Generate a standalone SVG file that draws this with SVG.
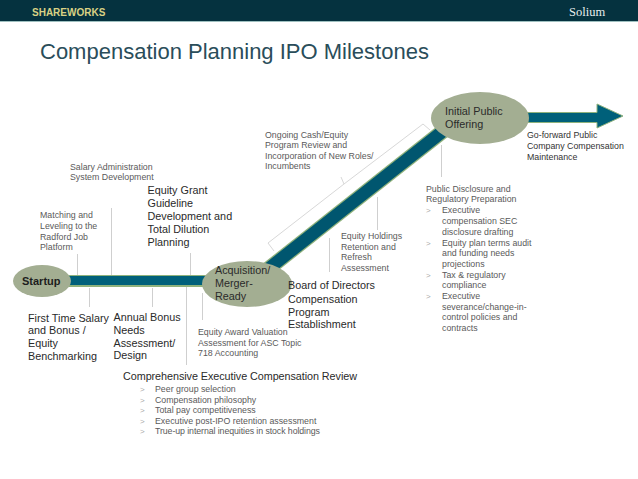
<svg xmlns="http://www.w3.org/2000/svg" width="638" height="479" viewBox="0 0 638 479">
<style>
text{font-family:"Liberation Sans",Arial,sans-serif}
.s{font-size:8.8px;fill:#5a5a5a}
.l{font-size:10.8px;fill:#2a2a2a}
.b{font-size:8px;fill:#aaa}
.k{fill:#333}
.lead{stroke:#cfcfcf;stroke-width:1;fill:none}
.node{fill:#a3ae92}
</style>
<rect width="638" height="21" fill="#05323f"/>
<rect y="21" width="638" height="1" fill="#9fc0c0"/>
<text x="32" y="16" font-size="10" font-weight="700" fill="#d9d184">SHAREWORKS</text>
<text x="569" y="16" font-size="12.500" fill="#e8eeee" style="font-family:'Liberation Serif',serif">Solium</text>
<text x="40" y="59" font-size="22" fill="#2a4d5a">Compensation Planning IPO Milestones</text>
<g id="connectors">
<path d="M60 281H230" stroke="#8fb27c" stroke-width="12" fill="none"/>
<path d="M60 280.500H230" stroke="#00607a" stroke-width="9" fill="none"/>
<path d="M255 279.300L452 124" stroke="#8fb27c" stroke-width="15" fill="none"/>
<path d="M255 279.300L452 124" stroke="#00566f" stroke-width="12.500" fill="none"/>
<path d="M525 112.500H597V104L623 116L597 128V122.500H525Z" fill="#00607a" stroke="#8fb27c" stroke-width="1"/>
<path class="lead" d="M77.500 254V275M111.500 208V275M190.500 253V275M89.500 288V307M152.500 288V307M186.500 287V365M202.500 293V320M377.500 197V230M329.500 238V272M441.500 145V177"/>
<path d="M274 251L268 243L344 184L423 124L430 130M344 184L341 177" fill="none" stroke="#d8d8d8" stroke-width="1"/>
</g>
<g id="startup"><ellipse class="node" cx="42" cy="281" rx="29" ry="16"/><text x="22" y="285" font-size="11" font-weight="700" fill="#1d1d1d">Startup</text></g>
<g id="acquisition"><ellipse class="node" cx="247" cy="284" rx="45" ry="23"/><text class="l" x="215" y="274">Acquisition/</text><text class="l" x="215" y="287">Merger-</text><text class="l" x="215" y="300">Ready</text></g>
<g id="ipo"><ellipse class="node" cx="480" cy="118" rx="49" ry="26"/><text class="l" x="445" y="115">Initial Public</text><text class="l" x="445" y="128">Offering</text></g>
<g id="salary-admin"><text class="s" x="70" y="170">Salary Administration</text><text class="s" x="70" y="180">System Development</text></g>
<g id="matching"><text class="s" x="40" y="218">Matching and</text><text class="s" x="40" y="229">Leveling to the</text><text class="s" x="40" y="239.500">Radford Job</text><text class="s" x="40" y="250">Platform</text></g>
<g id="equity-grant"><text class="l" x="147.500" y="194">Equity Grant</text><text class="l" x="147.500" y="207">Guideline</text><text class="l" x="147.500" y="220">Development and</text><text class="l" x="147.500" y="233">Total Dilution</text><text class="l" x="147.500" y="245.500">Planning</text></g>
<g id="first-time"><text class="l" x="28" y="322">First Time Salary</text><text class="l" x="28" y="334">and Bonus /</text><text class="l" x="28" y="347">Equity</text><text class="l" x="28" y="360">Benchmarking</text></g>
<g id="annual-bonus"><text class="l" x="113.500" y="321">Annual Bonus</text><text class="l" x="113.500" y="334">Needs</text><text class="l" x="113.500" y="347">Assessment/</text><text class="l" x="113.500" y="359">Design</text></g>
<g id="equity-award"><text class="s" x="198" y="335">Equity Award Valuation</text><text class="s" x="198" y="345.500">Assessment for ASC Topic</text><text class="s" x="198" y="356">718 Accounting</text></g>
<g id="board"><text class="l" x="288" y="289">Board of Directors</text><text class="l" x="288" y="303">Compensation</text><text class="l" x="288" y="316">Program</text><text class="l" x="288" y="328">Establishment</text></g>
<g id="comprehensive"><text class="l" x="123" y="380" textLength="234">Comprehensive Executive Compensation Review</text>
<text class="b" x="140" y="392">&gt;</text><text class="s" x="155" y="392">Peer group selection</text>
<text class="b" x="140" y="402.500">&gt;</text><text class="s" x="155" y="402.500">Compensation philosophy</text>
<text class="b" x="140" y="413">&gt;</text><text class="s" x="155" y="413">Total pay competitiveness</text>
<text class="b" x="140" y="423.500">&gt;</text><text class="s" x="155" y="423.500">Executive post-IPO retention assessment</text>
<text class="b" x="140" y="434">&gt;</text><text class="s" x="155" y="434" textLength="165">True-up internal inequities in stock holdings</text></g>
<g id="ongoing"><text class="s" x="265" y="138">Ongoing Cash/Equity</text><text class="s" x="265" y="148">Program Review and</text><text class="s" x="265" y="159">Incorporation of New Roles/</text><text class="s" x="265" y="169">Incumbents</text></g>
<g id="equity-holdings"><text class="s" x="341" y="239">Equity Holdings</text><text class="s" x="341" y="249.500">Retention and</text><text class="s" x="341" y="260">Refresh</text><text class="s" x="341" y="271">Assessment</text></g>
<g id="go-forward"><text class="s k" x="527" y="138" style="fill:#333">Go-forward Public</text><text class="s k" x="527" y="149" style="fill:#333">Company Compensation</text><text class="s k" x="527" y="160" style="fill:#333">Maintenance</text></g>
<g id="public-disclosure"><text class="s" x="426" y="192">Public Disclosure and</text><text class="s" x="426" y="202">Regulatory Preparation</text>
<text class="b" x="426" y="213">&gt;</text><text class="s" x="442" y="213">Executive</text><text class="s" x="442" y="224">compensation SEC</text><text class="s" x="442" y="234.500">disclosure drafting</text>
<text class="b" x="426" y="246">&gt;</text><text class="s" x="442" y="246">Equity plan terms audit</text><text class="s" x="442" y="256">and funding needs</text><text class="s" x="442" y="267">projections</text>
<text class="b" x="426" y="278">&gt;</text><text class="s" x="442" y="278">Tax &amp; regulatory</text><text class="s" x="442" y="288">compliance</text>
<text class="b" x="426" y="299">&gt;</text><text class="s" x="442" y="299">Executive</text><text class="s" x="442" y="310">severance/change-in-</text><text class="s" x="442" y="320">control policies and</text><text class="s" x="442" y="331">contracts</text></g>
</svg>
